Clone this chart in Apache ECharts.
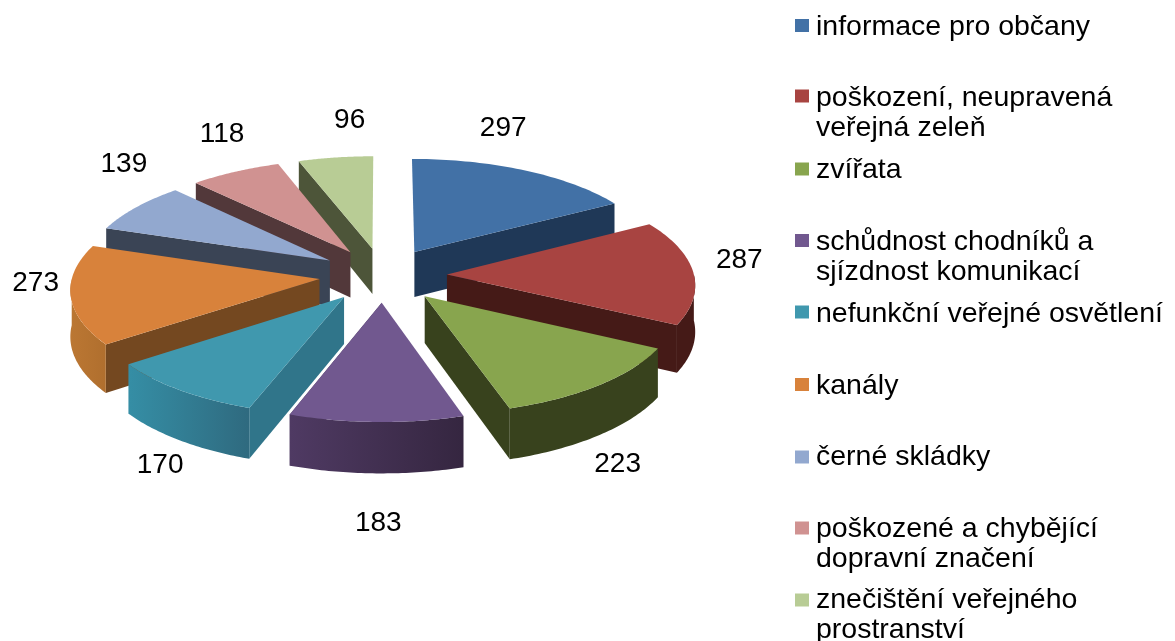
<!DOCTYPE html>
<html>
<head>
<meta charset="utf-8">
<title>Chart</title>
<script src="https://cdn.jsdelivr.net/npm/echarts@6/dist/echarts.min.js"></script>
<style>
  html, body { margin: 0; padding: 0; background: #fff; }
  #chart { width: 1175px; height: 641px; }
</style>
</head>
<body>
<div id="chart"></div>
<script>
// hodnoty
const categories = [
  'informace pro občany',
  'poškození, neupravená\nveřejná zeleň',
  'zvířata',
  'schůdnost chodníků a\nsjízdnost komunikací',
  'nefunkční veřejné osvětlení',
  'kanály',
  'černé skládky',
  'poškozené a chybějící\ndopravní značení',
  'znečištění veřejného\nprostranství'
];
const sliceValues = [297, 287, 223, 183, 170, 273, 139, 118, 96];

// barvy: vrch, radiální stěna, vnější stěna (zleva, zprava)
const topColors = ['#4271a6', '#a84441', '#88a54e', '#71588f', '#4098ae', '#d8823b', '#92a8cf', '#d09291', '#b8cc95'];
const wallColors = ['#1f3857', '#451a17', '#38421d', '#4a3a5c', '#30758a', '#744820', '#3a4455', '#52383a', '#4d5539'];
const rimColors = [
  ['#1f3857', '#1f3857'],
  ['#451a17', '#451a17'],
  ['#38421d', '#38421d'],
  ['#4f3a63', '#352640'],
  ['#358ea5', '#2f6a7f'],
  ['#bb7733', '#b06f2e'],
  ['#3a4455', '#3a4455'],
  ['#52383a', '#52383a'],
  ['#4d5539', '#4d5539']
];

// rozložení
const center = [383, 275];
const radius = 247;
const explode = 64;
const tilt = 0.423;
const perspective = 0.000338;
const depth = 46;
const labelFont = '28px "Liberation Sans", Arial, sans-serif';
const legendFont = '28.5px "Liberation Sans", Arial, sans-serif';
const labelOffsets = [[-22, -42], [46, -12], [18, 79], [2, 101], [-20, 75], [-35, -12], [-12, -43], [-13, -38], [14, -37]];
const legendIconY = [25.5, 96, 169, 240.5, 312, 384.5, 457, 528, 600];
const legendTextY = [27, 98, 170, 242, 314, 386, 457, 529, 600];
const legendLineHeight = 30;

const total = sliceValues.reduce((a, b) => a + b, 0);
const slices = [];
let acc = 0;
sliceValues.forEach(function (v) {
  const start = acc / total * Math.PI * 2;
  acc += v;
  slices.push({ start: start, end: acc / total * Math.PI * 2 });
});

// úhel měříme od vrcholu po směru hodinových ručiček
function project(x, y, down) {
  const p = 1 / (1 + y * perspective);
  return [
    center[0] + x * p,
    center[1] - y * tilt * p + (down ? depth * p : 0)
  ];
}

function renderSlice(params, api) {
  const i = params.dataIndex;
  const s = slices[i];
  const mid = (s.start + s.end) / 2;
  const ox = Math.sin(mid) * explode;
  const oy = Math.cos(mid) * explode;
  const rimPoint = function (a, down) {
    return project(ox + Math.sin(a) * radius, oy + Math.cos(a) * radius, down);
  };
  const arc = function (a, b, down) {
    const pts = [];
    const steps = 48;
    for (let k = 0; k <= steps; k++) {
      pts.push(rimPoint(a + (b - a) * k / steps, down));
    }
    return pts;
  };
  const children = [];
  const z = Math.round((1 - Math.cos(mid)) * 100);

  // radiální stěna, která je vidět
  const edge = Math.sin(s.start) < 0 ? s.start : s.end;
  if (Math.sin(edge) > 0.001 || Math.sin(edge) < -0.001) {
    children.push({
      type: 'polygon',
      z2: z,
      shape: { points: [project(ox, oy), rimPoint(edge), rimPoint(edge, true), project(ox, oy, true)] },
      style: { fill: wallColors[i] }
    });
  }

  // vnější stěna jen v přední půlce
  const a = Math.max(s.start, Math.PI / 2);
  const b = Math.min(s.end, Math.PI * 1.5);
  if (b > a) {
    children.push({
      type: 'polygon',
      z2: z + 1,
      shape: { points: arc(a, b).concat(arc(a, b, true).reverse()) },
      style: {
        fill: new echarts.graphic.LinearGradient(0, 0, 1, 0, [
          { offset: 0, color: mid > Math.PI ? rimColors[i][0] : rimColors[i][1] },
          { offset: 1, color: mid > Math.PI ? rimColors[i][1] : rimColors[i][0] }
        ])
      }
    });
  }

  // vrch
  children.push({
    type: 'polygon',
    z2: z + 2,
    shape: { points: [project(ox, oy)].concat(arc(s.start, s.end)) },
    style: { fill: topColors[i] }
  });

  // popisek hodnoty
  const anchor = project(Math.sin(mid) * (radius + explode), Math.cos(mid) * (radius + explode));
  children.push({
    type: 'text',
    z2: 500,
    style: {
      text: String(api.value(0)),
      x: anchor[0] + labelOffsets[i][0],
      y: anchor[1] + labelOffsets[i][1],
      fill: '#000',
      font: labelFont,
      align: 'center',
      verticalAlign: 'middle'
    }
  });

  return { type: 'group', children: children };
}

// legenda je nerovnoměrná, proto přes graphic
const legendElements = [];
categories.forEach(function (name, i) {
  legendElements.push({
    type: 'rect',
    left: 795,
    top: legendIconY[i] - 6.5,
    shape: { width: 14, height: 13 },
    style: { fill: topColors[i] }
  });
  legendElements.push({
    type: 'text',
    left: 816,
    top: legendTextY[i] - legendLineHeight / 2,
    style: {
      text: name,
      fill: '#000',
      font: legendFont,
      lineHeight: legendLineHeight
    }
  });
});

const chart = echarts.init(document.getElementById('chart'));
chart.setOption({
  animation: false,
  backgroundColor: '#fff',
  graphic: legendElements,
  series: [{
    type: 'custom',
    coordinateSystem: 'none',
    renderItem: renderSlice,
    data: sliceValues
  }]
});
</script>
</body>
</html>
